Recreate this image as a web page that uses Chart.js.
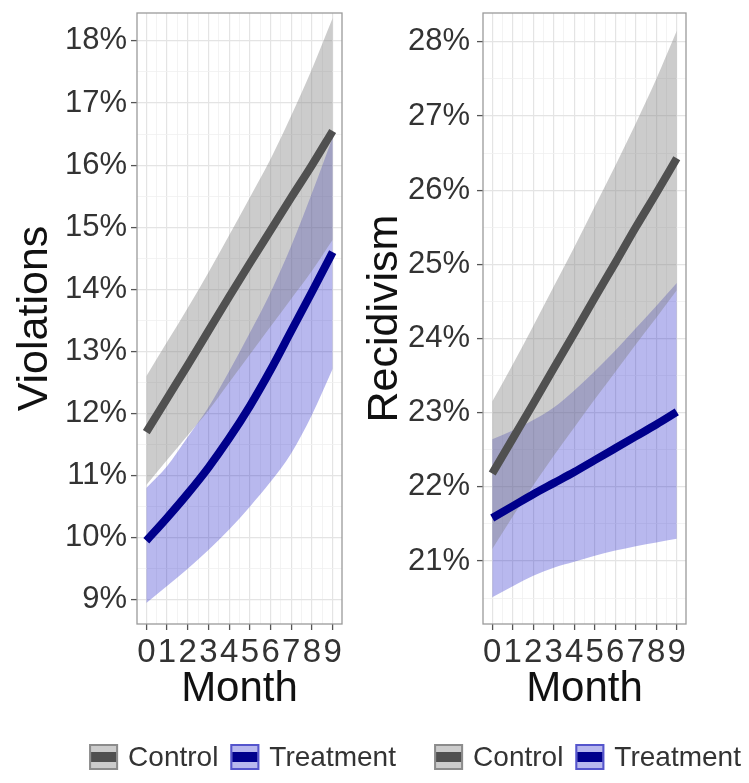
<!DOCTYPE html>
<html>
<head>
<meta charset="utf-8">
<script src="https://cdn.jsdelivr.net/npm/chart.js@4"></script>
<style>
    html, body { margin: 0; padding: 0; background: #fff; overflow: hidden; }
    body { width: 749px; height: 783px; position: relative; }
    canvas { position: absolute; top: 0; }
    #violChart { left: 0; }
    #recidChart { left: 355px; }
</style>
</head>
<body>
<canvas id="violChart" width="430" height="783"></canvas>
<canvas id="recidChart" width="394" height="783"></canvas>
<script>
// Data
const months = [0, 1, 2, 3, 4, 5, 6, 7, 8, 9];
const monthRange = [-0.45, 9.45];
const groupLabels = ['Control', 'Treatment'];

// Violations (%)
const violControl   = [11.70, 12.24, 12.78, 13.33, 13.88, 14.42, 14.95, 15.48, 16.00, 16.55];
const violControlHi = [12.60, 13.15, 13.70, 14.27, 14.87, 15.48, 16.10, 16.80, 17.55, 18.37];
const violControlLo = [10.85, 11.25, 11.65, 12.05, 12.50, 12.95, 13.40, 13.85, 14.30, 14.80];
const violTreat     = [9.95, 10.32, 10.71, 11.13, 11.60, 12.12, 12.70, 13.33, 13.96, 14.60];
const violTreatHi   = [10.80, 11.15, 11.62, 12.10, 12.68, 13.30, 13.95, 14.70, 15.55, 16.45];
const violTreatLo   = [8.95, 9.22, 9.50, 9.80, 10.13, 10.50, 10.90, 11.36, 11.98, 12.72];
const violRange = [8.61, 18.45];

// Recidivism (%)
const recidControl   = [22.18, 22.65, 23.12, 23.60, 24.07, 24.55, 25.02, 25.50, 25.96, 26.43];
const recidControlHi = [23.15, 23.65, 24.17, 24.70, 25.23, 25.78, 26.33, 26.90, 27.50, 28.15];
const recidControlLo = [21.16, 21.60, 22.02, 22.42, 22.80, 23.18, 23.55, 23.92, 24.28, 24.65];
const recidTreat     = [21.58, 21.74, 21.90, 22.05, 22.20, 22.36, 22.52, 22.68, 22.84, 23.01];
const recidTreatHi   = [22.64, 22.76, 22.90, 23.07, 23.30, 23.56, 23.84, 24.14, 24.44, 24.75];
const recidTreatLo   = [20.51, 20.66, 20.80, 20.91, 20.99, 21.07, 21.14, 21.20, 21.25, 21.30];
const recidRange = [20.15, 28.39];

const FONT = '"Liberation Sans", Arial, Helvetica, sans-serif';
const controlLine = '#505050';
const treatLine = '#00008b';
const controlBand = 'rgba(127, 127, 127, 0.40)';
const treatBand = 'rgba(20, 20, 200, 0.30)';

Chart.defaults.font.family = FONT;
Chart.defaults.animation = false;

function points(values) {
    return months.map((m, i) => ({ x: m, y: values[i] }));
}

function isMajor(v) {
    return Math.abs(v - Math.round(v)) < 1e-6;
}

// panel frame like ggplot's theme_bw
const framePlugin = {
    id: 'frame',
    afterDraw(chart) {
        const a = chart.chartArea;
        const ctx = chart.ctx;
        ctx.save();
        ctx.strokeStyle = '#9a9a9a';
        ctx.lineWidth = 1.3;
        ctx.strokeRect(a.left, a.top, a.right - a.left, a.bottom - a.top);
        ctx.restore();
    }
};

// ggplot-like key: ribbon box with the line through it
const keyPlugin = {
    id: 'keyLegend',
    afterDraw(chart, args, opts) {
        const ctx = chart.ctx;
        const a = chart.chartArea;
        const boxW = 29, boxH = 26, textGap = 10, itemGap = 12;
        ctx.save();
        ctx.font = '28px ' + FONT;
        const widths = opts.items.map(it => ctx.measureText(it.label).width);
        let total = 0;
        widths.forEach((w, i) => { total += boxW + textGap + w + (i ? itemGap : 0); });
        let x = (a.left + a.right) / 2 + opts.shift - total / 2;
        const y = opts.y;
        opts.items.forEach((it, i) => {
            ctx.fillStyle = '#fff';
            ctx.fillRect(x, y - boxH / 2, boxW, boxH);
            ctx.fillStyle = it.band;
            ctx.fillRect(x, y - boxH / 2, boxW, boxH);
            ctx.strokeStyle = it.edge;
            ctx.lineWidth = 2;
            ctx.strokeRect(x + 1, y - boxH / 2 + 1, boxW - 2, boxH - 2);
            ctx.fillStyle = it.line;
            ctx.fillRect(x + 2, y - 5, boxW - 4, 10);
            ctx.fillStyle = '#333';
            ctx.textBaseline = 'middle';
            ctx.fillText(it.label, x + boxW + textGap, y + 1);
            x += boxW + textGap + widths[i] + itemGap;
        });
        ctx.restore();
    }
};

function makePanel(id, cfg) {
    const ctx = document.getElementById(id).getContext('2d');
    const band = (data, bg, order) => ({
        data: points(data), borderWidth: 0, pointRadius: 0,
        backgroundColor: bg, fill: '+1', order: order,
        cubicInterpolationMode: 'monotone'
    });
    const edge = (data, order) => ({
        data: points(data), borderWidth: 0, pointRadius: 0,
        fill: false, order: order, cubicInterpolationMode: 'monotone'
    });
    const line = (data, color) => ({
        data: points(data), borderColor: color, borderWidth: 8,
        borderCapStyle: 'butt', pointRadius: 0, fill: false, order: 0,
        cubicInterpolationMode: 'monotone'
    });

    return new Chart(ctx, {
        type: 'line',
        data: {
            datasets: [
                band(cfg.controlHi, controlBand, 2),
                edge(cfg.controlLo, 2),
                band(cfg.treatHi, treatBand, 3),
                edge(cfg.treatLo, 3),
                line(cfg.treat, treatLine),
                line(cfg.control, controlLine)
            ]
        },
        options: {
            responsive: false,
            devicePixelRatio: 1,
            layout: { padding: { top: 13, right: cfg.padRight, left: 0, bottom: 0 } },
            plugins: {
                legend: { display: false },
                tooltip: { enabled: false },
                keyLegend: {
                    y: 757,
                    shift: 3,
                    items: [
                        { label: groupLabels[0], band: controlBand, edge: '#8c8c8c', line: controlLine },
                        { label: groupLabels[1], band: treatBand, edge: '#5555cc', line: treatLine }
                    ]
                }
            },
            scales: {
                x: {
                    type: 'linear',
                    min: monthRange[0],
                    max: monthRange[1],
                    afterFit: s => { s.height = 159; s.paddingLeft = 0; s.paddingRight = 0; },
                    border: { display: false },
                    grid: {
                        color: c => isMajor(c.tick.value) ? '#e4e4e4' : '#f0f0f0',
                        lineWidth: c => isMajor(c.tick.value) ? 1.2 : 0.8,
                        tickColor: c => isMajor(c.tick.value) ? '#555' : 'rgba(0,0,0,0)',
                        tickLength: 6,
                        tickWidth: 1.3
                    },
                    ticks: {
                        stepSize: 0.5,
                        includeBounds: false,
                        autoSkip: false,
                        maxRotation: 0,
                        padding: 3,
                        color: '#333',
                        font: { size: 33 },
                        callback: v => isMajor(v) ? String(Math.round(v)) : ''
                    },
                    title: {
                        display: true,
                        text: 'Month',
                        color: '#111',
                        font: { size: 42 },
                        padding: { top: 0, bottom: 68 }
                    }
                },
                y: {
                    type: 'linear',
                    min: cfg.range[0],
                    max: cfg.range[1],
                    afterFit: s => { s.width = cfg.axisWidth; s.paddingTop = 0; s.paddingBottom = 0; },
                    border: { display: false },
                    grid: {
                        color: c => isMajor(c.tick.value) ? '#e4e4e4' : '#f0f0f0',
                        lineWidth: c => isMajor(c.tick.value) ? 1.2 : 0.8,
                        tickColor: c => isMajor(c.tick.value) ? '#555' : 'rgba(0,0,0,0)',
                        tickLength: 6,
                        tickWidth: 1.3
                    },
                    ticks: {
                        stepSize: 0.5,
                        includeBounds: false,
                        autoSkip: false,
                        padding: cfg.tickPad,
                        color: '#333',
                        font: { size: 31 },
                        callback: v => isMajor(v) ? Math.round(v) + '%' : ''
                    },
                    title: {
                        display: true,
                        text: cfg.title,
                        color: '#111',
                        font: { size: 43 },
                        padding: { top: cfg.titlePad, bottom: 0 }
                    }
                }
            }
        },
        plugins: [framePlugin, keyPlugin]
    });
}

makePanel('violChart', {
    title: 'Violations',
    range: violRange,
    control: violControl, controlHi: violControlHi, controlLo: violControlLo,
    treat: violTreat, treatHi: violTreatHi, treatLo: violTreatLo,
    axisWidth: 137, padRight: 88, tickPad: 4, titlePad: 9
});

makePanel('recidChart', {
    title: 'Recidivism',
    range: recidRange,
    control: recidControl, controlHi: recidControlHi, controlLo: recidControlLo,
    treat: recidTreat, treatHi: recidTreatHi, treatLo: recidTreatLo,
    axisWidth: 128, padRight: 63, tickPad: 7, titlePad: 4
});
</script>
</body>
</html>
